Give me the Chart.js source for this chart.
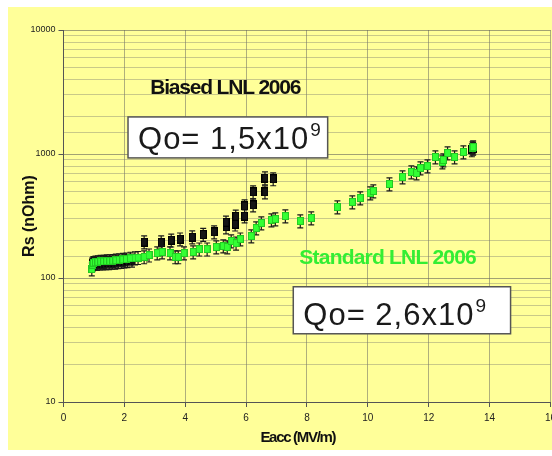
<!DOCTYPE html>
<html>
<head>
<meta charset="utf-8">
<script src="https://cdn.jsdelivr.net/npm/chart.js@4/dist/chart.umd.min.js"></script>
<style>
  html, body { margin: 0; padding: 0; background: #fff; overflow: hidden; }
  canvas { display: block; }
</style>
</head>
<body>
<!-- wider than the window: the last x label runs off the right edge -->
<canvas id="rsChart" width="561" height="456"></canvas>
<script>
// Standard treatment, LNL 2006
const standardEacc = [0.93, 0.95, 0.98, 1.05, 1.13, 1.22, 1.32, 1.42, 1.52, 1.62, 1.72, 1.83, 1.95, 2.07, 2.20, 2.35,
  2.45, 2.65, 2.81, 3.08, 3.24, 3.50, 3.67, 3.77, 3.96, 4.26, 4.46, 4.72, 5.02, 5.25, 5.38, 5.51, 5.67, 5.81,
  6.17, 6.33, 6.50, 6.83, 6.96, 7.29, 7.78, 8.14, 9.00, 9.49, 9.75, 10.08, 10.18, 10.71, 11.14, 11.43, 11.60,
  11.73, 11.96, 12.22, 12.45, 12.48, 12.62, 12.85, 13.14, 13.44, 13.46];
const standardRs = [118, 128, 133, 134, 135, 136, 136, 137, 137, 138, 139, 140, 141, 142, 144, 145,
  146, 148, 153, 159, 162, 159, 148, 148, 159, 162, 171, 171, 178, 181, 178, 199, 191, 206,
  218, 253, 278, 294, 299, 316, 288, 305, 374, 410, 442, 485, 503, 573, 653, 716, 703,
  771, 800, 946, 861, 895, 1019, 946, 1038, 1117, 1138];

// Biased treatment, LNL 2006
const biasedEacc = [0.95, 1.00, 1.10, 1.20, 1.30, 1.40, 1.50, 1.60, 1.70, 1.80, 1.90, 2.00, 2.10, 2.25,
  2.65, 3.21, 3.54, 3.83, 4.23, 4.59, 4.95, 5.34, 5.34, 5.64, 5.66, 5.95, 5.95, 6.23, 6.23, 6.62, 6.62, 6.89,
  13.42, 13.46];
const biasedRs = [130, 131, 131, 132, 132, 133, 133, 134, 134, 135, 136, 137, 138, 139,
  195, 195, 202, 206, 214, 224, 235, 258, 282, 272, 315, 316, 381, 388, 494, 494, 640, 630,
  1080, 1110];

// relative error of each Rs measurement
const standardErr = 0.12;
const biasedErr = 0.12;

const xTicks = [0, 2, 4, 6, 8, 10, 12, 14, 16];

const sansNarrow = '"Liberation Sans Narrow", "Liberation Sans", Arial, sans-serif';
const sans = '"Liberation Sans", Arial, sans-serif';

function isDecade(v) {
  const l = Math.log10(v);
  return Math.abs(l - Math.round(l)) < 1e-9;
}

function makeMark(fill, edge, w, h) {
  const c = document.createElement('canvas');
  c.width = w;
  c.height = h;
  const g = c.getContext('2d');
  g.fillStyle = edge;
  g.fillRect(0, 0, w, h);
  g.fillStyle = fill;
  g.fillRect(1, 1, w - 2, h - 2);
  return c;
}

const greenMark = makeMark('#33ff33', '#22c822', 7, 8);
const blackMark = makeMark('#151515', '#000000', 7, 9);

const toPoints = (xs, ys) => xs.map((x, i) => ({x: x, y: ys[i]}));

// yellow sheet behind the plot
const panelBg = {
  id: 'panelBg',
  beforeDraw(chart) {
    const {ctx, width} = chart;
    ctx.save();
    ctx.fillStyle = '#ffffff';
    ctx.fillRect(0, 0, width, chart.height);
    ctx.fillStyle = '#ffff99';
    ctx.fillRect(8, 7, width - 8, 443);
    ctx.restore();
  }
};

// vertical error bars, drawn under each dataset's markers
const errorBars = {
  id: 'errorBars',
  beforeDatasetDraw(chart, args) {
    const ds = chart.data.datasets[args.index];
    const y = chart.scales.y;
    const ctx = chart.ctx;
    ctx.save();
    ctx.strokeStyle = '#1a1a1a';
    ctx.lineWidth = 1.2;
    args.meta.data.forEach((pt, i) => {
      const v = ds.data[i].y;
      const top = y.getPixelForValue(v * (1 + ds.errFrac));
      const bot = y.getPixelForValue(v * (1 - ds.errFrac));
      ctx.beginPath();
      ctx.moveTo(pt.x, top);
      ctx.lineTo(pt.x, bot);
      ctx.moveTo(pt.x - 3, top);
      ctx.lineTo(pt.x + 3, top);
      ctx.moveTo(pt.x - 3, bot);
      ctx.lineTo(pt.x + 3, bot);
      ctx.stroke();
    });
    ctx.restore();
  }
};

function qoBox(ctx, x, y, box, main, exp) {
  const l = x.getPixelForValue(box.x0), r = x.getPixelForValue(box.x1);
  const t = y.getPixelForValue(box.y0), b = y.getPixelForValue(box.y1);
  ctx.fillStyle = '#ffffff';
  ctx.fillRect(l, t, r - l, b - t);
  ctx.strokeStyle = '#555555';
  ctx.lineWidth = 1.5;
  ctx.strokeRect(l, t, r - l, b - t);
  ctx.fillStyle = '#1a1a1a';
  ctx.textAlign = 'left';
  ctx.textBaseline = 'alphabetic';
  ctx.font = '31px ' + sans;
  ctx.letterSpacing = '1px';
  const base = b - 9;
  ctx.fillText(main, l + 10, base);
  const w = ctx.measureText(main).width;
  ctx.font = '19px ' + sans;
  ctx.letterSpacing = '0px';
  ctx.fillText(exp, l + 11 + w, base - 13);
}

// series names, quality factors and the x axis title
const notes = {
  id: 'notes',
  afterDraw(chart) {
    const {ctx, scales: {x, y}} = chart;
    ctx.save();
    ctx.textBaseline = 'middle';
    ctx.textAlign = 'left';

    ctx.font = 'bold 21px ' + sans;
    ctx.letterSpacing = '-1.2px';
    ctx.fillStyle = '#111111';
    ctx.fillText('Biased LNL 2006', x.getPixelForValue(2.85), y.getPixelForValue(3400));

    ctx.letterSpacing = '-0.8px';
    ctx.fillStyle = '#33ee33';
    ctx.fillText('Standard LNL 2006', x.getPixelForValue(7.75), y.getPixelForValue(100 * Math.pow(10, 20 / 124)));

    ctx.letterSpacing = '-1.3px';
    ctx.textAlign = 'center';
    ctx.font = 'bold 15px ' + sansNarrow;
    ctx.fillStyle = '#111111';
    ctx.fillText('Eacc (MV/m)', x.getPixelForValue(7.7), chart.chartArea.bottom + 36);

    ctx.letterSpacing = '0px';
    qoBox(ctx, x, y, {x0: 2.12, x1: 8.68, y0: 1990, y1: 930}, 'Qo= 1,5x10', '9');
    qoBox(ctx, x, y, {x0: 7.55, x1: 14.69, y0: 85, y1: 35.5}, 'Qo= 2,6x10', '9');
    ctx.restore();
  }
};

new Chart(document.getElementById('rsChart'), {
  type: 'scatter',
  data: {
    datasets: [{
      label: 'Standard LNL 2006',
      data: toPoints(standardEacc, standardRs),
      pointStyle: greenMark,
      errFrac: standardErr,
      order: 1
    }, {
      label: 'Biased LNL 2006',
      data: toPoints(biasedEacc, biasedRs),
      pointStyle: blackMark,
      errFrac: biasedErr,
      order: 2
    }]
  },
  options: {
    responsive: false,
    animation: false,
    events: [],
    layout: {padding: {top: 30, right: 6, left: 0, bottom: 0}},
    plugins: {legend: {display: false}, tooltip: {enabled: false}},
    scales: {
      x: {
        type: 'linear',
        min: 0,
        max: 16,
        afterBuildTicks(s) { s.ticks = xTicks.map(v => ({value: v})); },
        ticks: {color: '#222', font: {family: sansNarrow, size: 10}, padding: 5, maxRotation: 0},
        grid: {color: 'rgba(110,110,100,0.55)', lineWidth: 1, tickLength: 5, tickColor: '#555'},
        border: {color: '#555', width: 1},
        afterFit(s) { s.height = 54; }
      },
      y: {
        type: 'logarithmic',
        min: 10,
        max: 10000,
        ticks: {
          autoSkip: false,
          color: '#222',
          font: {family: sansNarrow, size: 9},
          padding: 3,
          callback: v => isDecade(v) ? String(v) : ''
        },
        grid: {
          color: c => isDecade(c.tick.value) ? 'rgba(100,100,90,0.6)' : 'rgba(120,120,110,0.4)',
          tickColor: c => isDecade(c.tick.value) ? '#555' : 'rgba(0,0,0,0)',
          tickLength: 5
        },
        border: {color: '#555', width: 1},
        title: {display: true, text: 'Rs (nOhm)', color: '#111',
          font: {family: sans, size: 16, weight: 'bold'}, padding: {top: 20}},
        afterFit(s) { s.width = 63.5; s.paddingTop = 0; s.paddingBottom = 0; }
      }
    }
  },
  plugins: [panelBg, errorBars, notes]
});
</script>
</body>
</html>
